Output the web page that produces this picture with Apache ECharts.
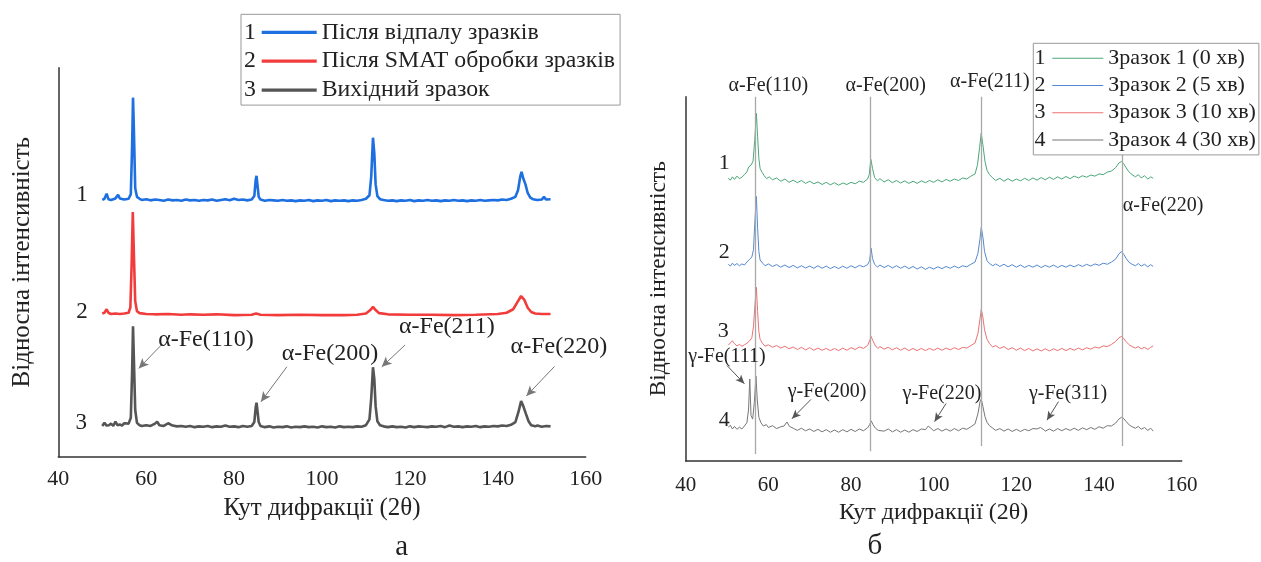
<!DOCTYPE html>
<html><head><meta charset="utf-8">
<script src="https://cdn.jsdelivr.net/npm/echarts@6/dist/echarts.min.js"></script>
<style>html,body{margin:0;padding:0;background:#fff}#c{width:1261px;height:562px}</style>
</head><body><div id="c"></div>
<script>
const FONT = '"Liberation Serif", "Times New Roman", serif';
const xTicks = [40, 60, 80, 100, 120, 140, 160];
const xTitle = 'Кут дифракції (2θ)';
const yTitle = 'Відносна інтенсивність';
const leftNames = ['Після відпалу зразків', 'Після SMAT обробки зразків', 'Вихідний зразок'];
const rightNames = ['Зразок 1 (0 хв)', 'Зразок 2 (5 хв)', 'Зразок 3 (10 хв)', 'Зразок 4 (30 хв)'];
const leftPeakNames = ['α-Fe(110)', 'α-Fe(200)', 'α-Fe(211)', 'α-Fe(220)'];
const rightGammaNames = ['γ-Fe(111)', 'γ-Fe(200)', 'γ-Fe(220)', 'γ-Fe(311)'];
const rightAlphaPeaks = [56.9, 84.7, 111.4, 145.5];

// Left panel traces (stacked relative intensity, 0..100 scale)
const leftBlue = [[50,66.0],[50.5,66.3],[51,67.6],[51.4,66.2],[52,66.0],[53,66.4],[53.6,67.3],[54,66.4],[55,66.1],[56,66.3],[56.5,67.5],[56.8,80],[57,92.3],[57.2,84],[57.5,69],[57.9,66.8],[58.5,66.3],[59,66.0],[60,66.2],[61,65.9],[62,66.1],[63,66.0],[64,65.8],[65,66.1],[66,65.9],[67,66.0],[68,65.8],[69,66.1],[70,65.9],[71,66.0],[72,65.8],[73,66.0],[74,65.9],[75,66.1],[76,65.8],[77,66.0],[78,66.2],[79,65.9],[80,66.3],[81,66.0],[82,66.1],[83,65.9],[84,66.1],[84.6,67.0],[84.9,71],[85.1,72.2],[85.3,70],[85.6,66.8],[86,66.1],[87,65.8],[88,66.0],[89,65.9],[90,65.8],[91,66.0],[92,65.8],[93,65.9],[94,65.7],[95,65.9],[96,65.8],[97,66.0],[98,65.7],[99,65.9],[100,65.8],[101,66.0],[102,65.7],[103,65.9],[104,65.8],[105,65.9],[106,65.7],[107,65.9],[108,65.8],[109,66.0],[110,66.3],[110.8,67.2],[111.2,72],[111.6,82.0],[111.9,78],[112.2,70],[112.6,67.0],[113.2,66.2],[114,66.0],[115,65.8],[116,65.9],[117,65.7],[118,65.9],[119,65.8],[120,66.0],[121,65.7],[122,65.9],[123,65.8],[124,66.0],[125,65.8],[126,65.9],[127,65.7],[128,65.9],[129,65.8],[130,66.0],[131,65.8],[132,65.9],[133,65.7],[134,65.9],[135,65.8],[136,66.0],[137,65.8],[138,65.9],[139,66.0],[140,65.9],[141,66.1],[142,66.0],[143,66.3],[144,66.8],[144.6,68.5],[145.1,72],[145.4,73.2],[145.8,71.5],[146.3,70.0],[146.8,67.8],[147.4,66.6],[148,66.2],[149,66.0],[150,66.1],[150.5,66.8],[151,66.1],[152,66.2]];
const leftRed = [[50,36.8],[50.5,37.0],[51,37.9],[51.4,37.0],[52,36.7],[53,36.8],[54,36.7],[55,36.8],[56,37.0],[56.4,38.4],[56.7,50],[56.95,62.9],[57.2,52],[57.5,40],[57.9,37.4],[58.5,36.9],[60,36.7],[62,36.6],[65,36.7],[68,36.5],[70,36.6],[73,36.5],[76,36.6],[80,36.4],[84,36.5],[85,36.8],[86,36.5],[90,36.4],[95,36.5],[100,36.4],[105,36.4],[108,36.5],[110,36.8],[111,37.7],[111.6,38.5],[112.2,37.7],[113,36.9],[115,36.6],[120,36.5],[125,36.5],[130,36.4],[135,36.5],[140,36.7],[142,37.0],[143.5,37.9],[144.5,39.8],[145.3,41.3],[146,40.4],[146.8,38.3],[147.6,37.2],[148.5,36.8],[150,36.7],[152,36.7]];
const leftGray = [[50,7.9],[50.5,8.7],[51,8.0],[51.5,8.1],[52,8.5],[52.5,7.9],[53,9.0],[53.5,8.1],[54,8.3],[54.5,8.0],[55,8.6],[56,8.5],[56.5,10],[56.8,22],[57,33.5],[57.2,25],[57.5,12],[57.9,8.7],[58.5,8.1],[59,7.9],[60,8.1],[61,7.9],[62,8.5],[62.5,9.0],[63,8.1],[64,7.9],[65,8.6],[66,8.0],[67,7.8],[68,7.9],[69,7.7],[70,7.9],[71,7.6],[72,7.8],[73,7.7],[74,7.9],[75,7.6],[76,7.8],[77,7.7],[78,8.0],[79,7.7],[80,7.8],[81,7.6],[82,7.9],[83,7.7],[84,7.9],[84.6,8.9],[84.9,12.5],[85.1,13.9],[85.3,12],[85.6,8.9],[86,7.9],[87,7.6],[88,7.8],[89,7.5],[90,7.7],[91,7.6],[92,7.8],[93,7.5],[94,7.7],[95,7.6],[96,7.8],[97,7.6],[98,7.7],[99,7.5],[100,7.8],[101,7.6],[102,7.7],[103,7.5],[104,7.8],[105,7.6],[106,7.7],[107,7.6],[108,7.8],[109,7.7],[110,8.1],[110.8,9.6],[111.2,15],[111.6,23.0],[111.9,20],[112.2,13],[112.6,9.1],[113.2,8.1],[114,7.8],[115,7.6],[116,7.8],[117,7.6],[118,7.7],[119,7.5],[120,7.8],[121,7.6],[122,7.8],[123,7.7],[124,7.6],[125,7.8],[126,7.7],[127,7.9],[128,7.6],[129,8.0],[130,7.7],[131,7.8],[132,7.6],[133,7.8],[134,7.7],[135,7.9],[136,7.6],[137,7.8],[138,7.7],[139,7.9],[140,7.8],[141,8.0],[142,7.9],[143,8.2],[144,8.9],[144.7,11.5],[145.3,14.3],[145.8,13.0],[146.4,11.0],[147,9.1],[147.6,8.1],[148.5,7.8],[149,8.0],[150,7.7],[151,7.9],[152,7.8]];

// Right panel traces
const rightGreen = [[50.3,77.6],[50.8,77.1],[51.3,78.0],[51.8,77.3],[52.4,78.2],[53,77.5],[53.6,77.9],[54.2,78.6],[54.8,79.4],[55.3,80.8],[55.8,81.2],[56.3,82.3],[56.7,88],[57.1,95.4],[57.4,89],[57.7,83],[58,80.3],[58.5,79.2],[59,78.3],[59.6,77.5],[60.2,78.0],[61,77.2],[62,77.7],[63,76.8],[64,77.4],[65,76.5],[66,77.1],[67,76.4],[68,77.0],[69,76.2],[70,76.8],[71,76.1],[72,76.6],[73,75.9],[74,76.5],[75,75.8],[76,76.4],[77,75.7],[78,76.3],[79,75.9],[80,76.5],[81,76.1],[82,76.8],[83,76.5],[84,77.4],[84.4,78.6],[84.8,82.8],[85.2,80.3],[85.7,77.8],[86.4,76.9],[87,77.5],[88,76.6],[89,77.2],[90,76.4],[91,77.0],[92,76.3],[93,76.9],[94,76.2],[95,76.8],[96,76.2],[97,76.9],[98,76.4],[99,77.0],[100,76.5],[101,77.2],[102,76.6],[103,77.3],[104,76.8],[105,77.4],[106,77.0],[107,77.7],[108,77.4],[109,78.2],[110,78.8],[110.6,81.3],[111.1,86],[111.5,90.0],[111.9,86.8],[112.4,82.3],[112.9,79.8],[113.5,78.6],[114.2,77.8],[115,77.0],[116,77.6],[117,76.8],[118,77.5],[119,76.8],[120,77.4],[121,76.9],[122,77.6],[123,77.0],[124,77.7],[125,77.1],[126,77.8],[127,77.2],[128,77.9],[129,77.3],[130,78.0],[131,77.4],[132,78.1],[133,77.5],[134,78.2],[135,77.7],[136,78.3],[137,77.9],[138,78.5],[139,78.2],[140,78.8],[141,78.6],[142,79.3],[143,79.6],[144,80.5],[144.8,81.8],[145.4,82.2],[145.9,81.7],[146.5,80.6],[147.2,79.4],[148,78.6],[148.8,78.0],[149.5,78.6],[150.2,77.7],[151,78.3],[151.8,77.4],[152.5,78.0],[153.1,77.6]];
const rightBlue = [[50.3,54.0],[50.8,53.5],[51.3,54.3],[51.8,53.7],[52.4,54.2],[53,53.6],[53.6,54.1],[54.2,53.8],[54.8,54.6],[55.4,55.3],[56,56.0],[56.4,58],[56.7,65],[57.1,72.6],[57.4,64],[57.7,57.5],[58,55.2],[58.6,54.3],[59.2,53.6],[60,54.1],[61,53.4],[62,53.9],[63,53.2],[64,53.8],[65,53.1],[66,53.7],[67,53.0],[68,53.6],[69,53.0],[70,53.5],[71,52.9],[72,53.6],[73,52.9],[74,53.5],[75,52.8],[76,53.4],[77,52.8],[78,53.5],[79,52.9],[80,53.6],[81,53.0],[82,53.7],[83,53.3],[84,53.9],[84.5,55.0],[84.85,58.4],[85.2,55.6],[85.7,54.0],[86.4,53.2],[87,53.8],[88,53.1],[89,53.7],[90,53.0],[91,53.6],[92,52.9],[93,53.5],[94,52.8],[95,53.4],[96,52.7],[97,53.3],[98,52.6],[99,53.2],[100,52.7],[101,53.3],[102,52.8],[103,53.4],[104,52.9],[105,53.5],[106,53.0],[107,53.6],[108,53.3],[109,54.0],[110,54.6],[110.7,57],[111.2,61],[111.5,64.1],[111.9,61.5],[112.3,57.5],[112.9,55.0],[113.5,54.2],[114.3,53.6],[115,54.1],[116,53.4],[117,54.0],[118,53.3],[119,53.9],[120,53.2],[121,53.8],[122,53.1],[123,53.7],[124,53.2],[125,53.8],[126,53.1],[127,53.7],[128,53.2],[129,53.8],[130,53.1],[131,53.7],[132,53.2],[133,53.8],[134,53.3],[135,53.9],[136,53.4],[137,54.0],[138,53.5],[139,54.1],[140,53.7],[141,54.3],[142,54.0],[143,54.6],[144,55.4],[144.8,56.8],[145.4,57.5],[146,56.7],[146.6,55.5],[147.3,54.5],[148,54.0],[148.8,53.6],[149.5,54.2],[150.2,53.5],[151,54.0],[151.8,53.3],[152.5,53.9],[153.1,53.4]];
const rightRed = [[50.3,31.8],[50.8,32.4],[51.3,33.0],[51.8,32.2],[52.4,31.6],[53,32.0],[53.6,31.5],[54.2,31.9],[54.8,32.3],[55.4,32.9],[56,33.8],[56.4,37],[56.7,42],[57.1,47.7],[57.4,41],[57.7,35.5],[58,33.4],[58.6,32.3],[59.2,31.5],[60,31.9],[61,31.2],[62,31.7],[63,31.0],[64,31.5],[65,30.8],[66,31.3],[67,30.6],[68,31.2],[69,30.5],[70,31.1],[71,30.4],[72,31.0],[73,30.4],[74,30.9],[75,30.3],[76,30.9],[77,30.3],[78,31.0],[79,30.4],[80,31.1],[81,30.6],[82,31.3],[83,30.9],[84,31.7],[84.5,33.0],[84.85,34.2],[85.3,33.0],[85.9,31.6],[86.5,30.9],[87,31.4],[88,30.7],[89,31.2],[90,30.5],[91,31.1],[92,30.4],[93,31.0],[94,30.3],[95,30.9],[96,30.3],[97,30.9],[98,30.3],[99,30.9],[100,30.4],[101,31.0],[102,30.4],[103,31.0],[104,30.5],[105,31.1],[106,30.6],[107,31.2],[108,31.0],[109,31.7],[110,32.4],[110.7,35.0],[111.2,39.0],[111.5,41.6],[111.9,39.5],[112.3,36.0],[112.9,33.4],[113.5,32.2],[114.3,31.3],[115,31.7],[116,30.9],[117,31.4],[118,30.6],[119,31.1],[120,30.4],[121,31.0],[122,30.3],[123,30.9],[124,30.2],[125,30.8],[126,30.2],[127,30.8],[128,30.2],[129,30.8],[130,30.3],[131,30.9],[132,30.3],[133,30.9],[134,30.4],[135,31.0],[136,30.5],[137,31.1],[138,30.7],[139,31.3],[140,31.0],[141,31.6],[142,31.4],[143,32.0],[144,32.8],[144.8,33.8],[145.4,34.2],[146,33.6],[146.6,32.7],[147.3,31.9],[148,31.4],[148.8,31.0],[149.5,31.4],[150.2,30.8],[151,31.2],[151.8,30.6],[152.5,31.2],[153.1,31.6]];
const rightGray = [[50.3,9.3],[50.8,9.8],[51.3,8.8],[51.8,9.5],[52.4,8.7],[53,9.3],[53.6,8.8],[54.2,9.6],[54.8,10.5],[55.2,14],[55.5,22.5],[55.8,12.5],[56.2,11.5],[56.6,16],[57,23.3],[57.3,17],[57.7,12.0],[58.2,10.5],[58.8,9.6],[59.5,10.0],[60,9.2],[61,9.7],[62,8.9],[63,9.4],[63.8,9.6],[64.5,10.7],[65.1,9.5],[66,9.0],[67,8.4],[68,9.0],[69,8.3],[70,8.8],[71,8.1],[72,8.7],[73,8.0],[74,8.6],[75,7.9],[76,8.5],[77,7.9],[78,8.6],[79,8.0],[80,8.7],[81,8.1],[82,8.8],[83,8.3],[84,9.1],[84.5,10.0],[84.9,11.0],[85.3,10.0],[85.9,9.0],[86.6,8.4],[87,8.9],[88,8.2],[89,8.8],[90,8.0],[91,8.6],[92,7.9],[93,8.5],[94,7.9],[95,8.6],[96,8.1],[97,8.8],[98,8.6],[98.7,9.6],[99.3,9.0],[100,8.3],[101,8.9],[102,8.2],[103,8.8],[104,8.2],[105,8.9],[106,8.3],[107,9.0],[108,8.7],[109,9.4],[110,10.2],[110.7,13.0],[111.2,16.2],[111.5,17.0],[111.9,15.0],[112.4,12.2],[112.9,10.6],[113.5,9.7],[114.3,9.0],[115,8.4],[116,8.9],[117,8.2],[118,8.8],[119,8.1],[120,8.7],[121,8.1],[122,8.7],[123,8.3],[124,8.9],[125,8.8],[125.8,9.2],[126.5,8.7],[127,8.2],[128,8.8],[129,8.2],[130,8.9],[131,8.3],[132,8.9],[133,8.4],[134,9.0],[135,8.4],[136,9.1],[137,8.6],[138,9.2],[139,8.7],[140,9.4],[141,9.0],[142,9.7],[143,9.6],[144,10.4],[144.8,11.5],[145.4,12.0],[146,11.6],[146.6,10.8],[147.3,9.9],[148,9.4],[148.8,9.0],[149.5,9.5],[150.2,8.7],[151,9.2],[151.8,8.4],[152.5,9.0],[153.1,8.2]];

// Annotation anchors (data coordinates)
const leftLabelPos = [[73.6,30.0],[101.8,26.6],[128.4,33.4],[153.9,28.2]];
const leftArrows = [[[63.6,28.9],[58.3,22.7]],[[92.0,23.1],[86.1,14.1]],[[118.9,28.7],[113.6,23.1]],[[152.9,23.2],[146.5,15.6]]];
const leftTraceTags = [[45.4,67.3],[45.4,37.3],[45.2,8.6]];
const rightAlphaLabelPos = [[60.0,100,-11],[88.4,100,-11],[113.6,100,-15],[155.5,70.1,0]];
const rightLineSpan = [[1.9,100],[2.7,100],[4.1,100],[4.1,84]];
const rightGammaLabelPos = [[50.0,28.6],[74.2,19.0],[102.0,18.5],[132.5,18.5]];
const rightArrows = [[[50.0,26.2],[54.2,21.2]],[[70.3,16.9],[65.7,11.6]],[[103.0,15.8],[100.2,10.8]],[[130.2,16.3],[127.4,11.2]]];
const rightTraceTags = [[49.3,81.7],[49.3,57.4],[49.1,35.5],[49.3,11.3]];

const leftColors = ['#1e6fe0', '#f23c3c', '#555555'];
const rightColors = ['#4aa878', '#5389d2', '#ee7070', '#767676'];

function tagPoint(txt, coord, size, dy) {
  return { name: txt, coord: coord, symbol: 'circle', symbolSize: 1,
    itemStyle: { color: 'rgba(0,0,0,0)' },
    label: { show: true, position: 'inside', offset: [0, dy || 0], formatter: '{b}', color: '#222', fontFamily: FONT, fontSize: size } };
}

function makeX(gi, fs, margin, nfs, gap) {
  return { type: 'value', gridIndex: gi, min: xTicks[0], max: xTicks[xTicks.length - 1], interval: xTicks[1] - xTicks[0],
    axisLine: { show: true, lineStyle: { color: '#333', width: 1.5 } }, axisTick: { show: false }, splitLine: { show: false },
    axisLabel: { color: '#222', fontFamily: FONT, fontSize: fs, margin: margin },
    name: xTitle, nameLocation: 'middle', nameGap: gap, nameTextStyle: { color: '#222', fontFamily: FONT, fontSize: nfs } };
}
function makeY(gi, fs, gap) {
  return { type: 'value', gridIndex: gi, min: 0, max: 100,
    axisLine: { show: true, lineStyle: { color: '#333', width: 1.5 } }, axisTick: { show: false }, splitLine: { show: false },
    axisLabel: { show: false },
    name: yTitle, nameLocation: 'middle', nameGap: gap, nameTextStyle: { color: '#222', fontFamily: FONT, fontSize: fs } };
}

const leftData = [leftBlue, leftRed, leftGray];
const rightData = [rightGreen, rightBlue, rightRed, rightGray];
const series = [];
leftData.forEach((d, i) => {
  const s = { name: leftNames[i], type: 'line', xAxisIndex: 0, yAxisIndex: 0, data: d, showSymbol: false, clip: false,
    lineStyle: { color: leftColors[i], width: 2.6 }, itemStyle: { color: leftColors[i] },
    markPoint: { silent: true, data: [tagPoint(String(i + 1), leftTraceTags[i], 23)] } };
  if (i === 2) {
    s.markPoint.data = s.markPoint.data.concat(leftPeakNames.map((n, k) => tagPoint(n, leftLabelPos[k], 24)));
    s.markLine = { silent: true, symbol: ['none', 'arrow'], symbolSize: [7, 10], label: { show: false },
      lineStyle: { color: '#777', width: 1, type: 'solid' },
      data: leftArrows.map(a => [{ coord: a[0] }, { coord: a[1] }]) };
  }
  series.push(s);
});
rightData.forEach((d, i) => {
  const s = { name: rightNames[i], type: 'line', xAxisIndex: 1, yAxisIndex: 1, data: d, showSymbol: false, clip: false,
    lineStyle: { color: rightColors[i], width: 1 }, itemStyle: { color: rightColors[i] },
    markPoint: { silent: true, data: [tagPoint(String(i + 1), rightTraceTags[i], 22)] } };
  if (i === 3) {
    s.markPoint.data = s.markPoint.data
      .concat(leftPeakNames.map((n, k) => tagPoint(n, [rightAlphaLabelPos[k][0], rightAlphaLabelPos[k][1]], 20, rightAlphaLabelPos[k][2])))
      .concat(rightGammaNames.map((n, k) => tagPoint(n, rightGammaLabelPos[k], 20)));
    s.markLine = { silent: true, symbol: 'none', label: { show: false },
      lineStyle: { color: '#a8a8a8', width: 1.3, type: 'solid' },
      data: rightAlphaPeaks.map((x, k) => [{ coord: [x, rightLineSpan[k][0]] }, { coord: [x, rightLineSpan[k][1]] }])
        .concat(rightArrows.map(a => [{ coord: a[0], lineStyle: { color: '#555', width: 1 }, symbol: 'none' },
          { coord: a[1], symbol: 'arrow', symbolSize: [6, 9] }])) };
  }
  series.push(s);
});

const option = {
  animation: false,
  backgroundColor: '#fff',
  grid: [
    { left: 58.3, right: 675.3, top: 67.7, bottom: 105.3 },
    { left: 685.7, right: 79.3, top: 96.7, bottom: 101 }
  ],
  xAxis: [makeX(0, 22, 12, 25, 27), makeX(1, 21, 13.5, 24, 34)],
  yAxis: [makeY(0, 25, 23), makeY(1, 23.5, 15)],
  legend: [
    { data: leftNames, orient: 'vertical', left: 241, top: 14.3, padding: [6, 5, 3, 20.7], itemGap: 4.9, z: 20,
      icon: 'rect', itemWidth: 55, itemHeight: 3.2, borderColor: '#999', borderWidth: 1, backgroundColor: '#fff',
      textStyle: { color: '#222', fontFamily: FONT, fontSize: 23.8, lineHeight: 24 } },
    { data: rightNames, orient: 'vertical', left: 1033.3, top: 43.3, padding: [4, 3, 4, 19], itemGap: 5.2, z: 20,
      icon: 'rect', itemWidth: 51, itemHeight: 1, borderColor: '#999', borderWidth: 1, backgroundColor: '#fff',
      textStyle: { color: '#222', fontFamily: FONT, fontSize: 22, lineHeight: 22 } }
  ],
  graphic: [
    ...['1','2','3'].map((t, i) => ({ type: 'text', z: 100, x: 250, y: 32.3 + i * 28.9,
      style: { text: t, fontFamily: FONT, fontSize: 23.8, fill: '#222', align: 'center', verticalAlign: 'middle' } })),
    ...['1','2','3','4'].map((t, i) => ({ type: 'text', z: 100, x: 1040, y: 58.3 + i * 27.2,
      style: { text: t, fontFamily: FONT, fontSize: 22, fill: '#222', align: 'center', verticalAlign: 'middle' } })),
    { type: 'text', x: 401.7, y: 547, style: { text: 'а', fontFamily: FONT, fontSize: 29, fill: '#222', align: 'center', verticalAlign: 'middle' } },
    { type: 'text', x: 875, y: 546, style: { text: 'б', fontFamily: FONT, fontSize: 29, fill: '#222', align: 'center', verticalAlign: 'middle' } }
  ],
  series: series
};
const chart = echarts.init(document.getElementById('c'), null, { renderer: 'canvas' });
chart.setOption(option);
</script></body></html>
